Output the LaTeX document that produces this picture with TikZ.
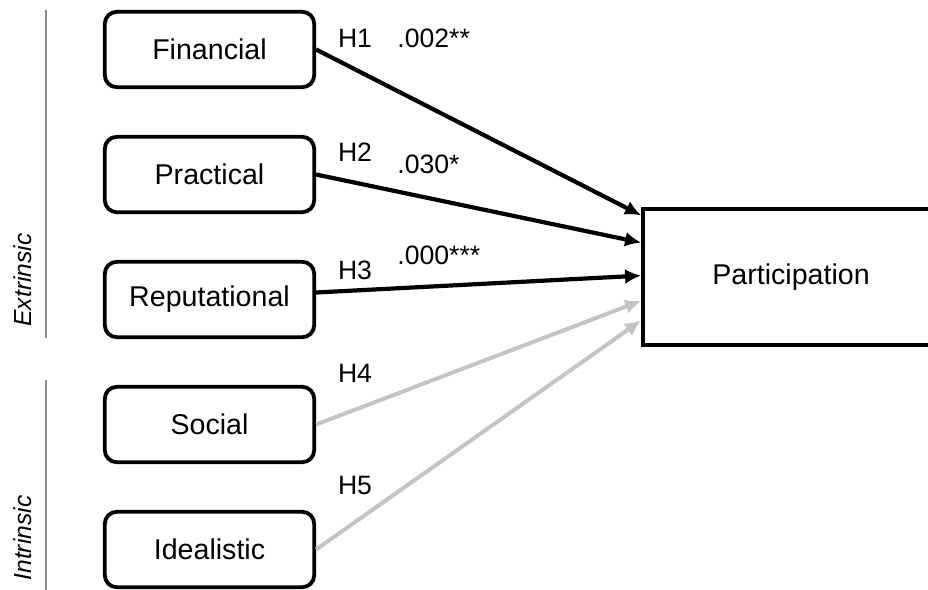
\documentclass[tikz,border=0pt]{standalone}
\usepackage{fontspec}
\setmainfont{Liberation Sans}
\usepackage{tikz}
\usetikzlibrary{arrows.meta,positioning,calc}
\definecolor{greyarr}{HTML}{C4C4C4}
\definecolor{greyaxe}{HTML}{8C8C8C}
\tikzset{
  motive/.style={rectangle, rounded corners=6pt, draw=black, line width=1.9pt, fill=white,
                 minimum width=104.7pt, minimum height=37.7pt, font=\fontsize{14.3}{17}\selectfont},
  outcome/.style={rectangle, draw=black, line width=1.9pt, fill=white,
                  minimum width=148pt, minimum height=68.2pt, font=\fontsize{14.3}{17}\selectfont},
  hyp/.style={font=\fontsize{13.3}{16}\selectfont, inner sep=0pt},
  group/.style={rotate=90, font=\itshape\fontsize{12.3}{15}\selectfont, inner sep=0pt},
  axe/.style={line width=0.8pt, draw=greyaxe},
  arr/.style={-{Latex[length=8pt,width=7.5pt]}, line width=2.1pt, draw=black},
  arrgrey/.style={arr, line width=2pt, draw=greyarr},
}

\begin{document}
\begin{tikzpicture}[x=0.5pt, y=-0.5pt, node distance=22.9pt]
  \useasboundingbox (0,0) rectangle (928,590);
  % motives
  \node[motive] (fin) at (209.5,49.5) {Financial};
  \node[motive, below=of fin] (prac) {Practical};
  \node[motive, below=of prac] (rep) {Reputational};
  \node[motive, below=of rep] (soc) {Social};
  \node[motive, below=of soc] (ideal) {Idealistic};
  \node[outcome] (part) at (791,277) {Participation};

  % groups
  \draw[axe] (46,10) -- (46,338);
  \draw[axe] (46,380) -- (46,592);
  \node[group] (ext) at (23,280) {Extrinsic};
  \node[group] (intr) at (23,538) {Intrinsic};

  % paths
  \draw[arr] (fin.east) -- ($(part.north west)!0.06!(part.south west)$);
  \draw[arr] (prac.east) -- ($(part.north west)!0.255!(part.south west)$);
  \draw[arr] ($(rep.east)+(0,-7)$) -- ($(part.north west)!0.49!(part.south west)$);
  \draw[arrgrey] (soc.east) -- ($(part.north west)!0.67!(part.south west)$);
  \draw[arrgrey] (ideal.east) -- ($(part.north west)!0.81!(part.south west)$);

  % labels
  \node[hyp] (h1) at (355,38) {H1};
  \node[hyp, anchor=west] (p1) at (397,38) {.002**};
  \node[hyp] (h2) at (355,152) {H2};
  \node[hyp, anchor=west] (p2) at (397,164) {.030*};
  \node[hyp] (h3) at (355,270) {H3};
  \node[hyp, anchor=west] (p3) at (397,255) {.000***};
  \node[hyp] (h4) at (355,373) {H4};
  \node[hyp] (h5) at (355,485) {H5};
\end{tikzpicture}
\end{document}
